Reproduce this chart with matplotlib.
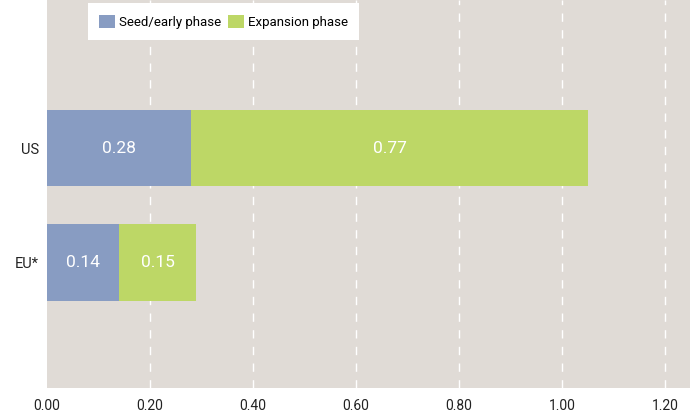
import matplotlib
matplotlib.use("Agg")
import matplotlib.pyplot as plt
from matplotlib.patches import Patch

plt.rcParams['font.family'] = ['Roboto', 'DejaVu Sans']

regions = ["EU*", "US"]
seed_early = [0.14, 0.28]
expansion = [0.15, 0.77]
series_labels = ["Seed/early phase", "Expansion phase"]
xticks = [0.0, 0.2, 0.4, 0.6, 0.8, 1.0, 1.2]

blue = "#889cc2"
green = "#bdd766"
bg = "#e0dbd6"

fig = plt.figure(figsize=(6.96, 4.12), dpi=100)
ax = fig.add_axes([47/696, 24/412, 643/696, 388/412])
ax.set_facecolor(bg)

ypos = list(range(len(regions)))
h = 0.667
ax.barh(ypos, seed_early, height=h, color=blue, zorder=3)
ax.barh(ypos, expansion, left=seed_early, height=h, color=green, zorder=3)

for y, s, e in zip(ypos, seed_early, expansion):
    ax.text(s / 2, y, f"{s:.2f}", color="white", fontsize=12.5,
            ha="center", va="center", zorder=4)
    ax.text(s + e / 2, y, f"{e:.2f}", color="white", fontsize=12.5,
            ha="center", va="center", zorder=4)

ax.set_xlim(0, 1.2485)
ax.set_ylim(-1.1, 2.3)
ax.set_xticks(xticks)
ax.set_xticklabels([f"{v:.2f}" for v in xticks], fontsize=10, color="#222222")
ax.set_yticks(ypos)
ax.set_yticklabels(regions, fontsize=10.5, color="#222222")
ax.tick_params(length=0, pad=8)
ax.tick_params(axis="y", pad=6)
for sp in ax.spines.values():
    sp.set_visible(False)
for v in xticks[1:]:
    ax.axvline(v, color="white", lw=1, ls=(0, (6, 6)), zorder=2)

handles = [Patch(facecolor=blue, edgecolor="none"), Patch(facecolor=green, edgecolor="none")]
leg = fig.legend(handles, series_labels, loc="lower left",
                 bbox_to_anchor=(88/696, 1 - 40/412), ncol=2, fontsize=9.5,
                 frameon=True, fancybox=False, framealpha=1, edgecolor="none",
                 handlelength=1.2, handleheight=1.2, handletextpad=0.3,
                 columnspacing=0.5, borderpad=0.85, borderaxespad=0)
leg.get_frame().set_facecolor("white")
leg.get_frame().set_linewidth(0)

fig.savefig("out.png", dpi=100, facecolor="white")
